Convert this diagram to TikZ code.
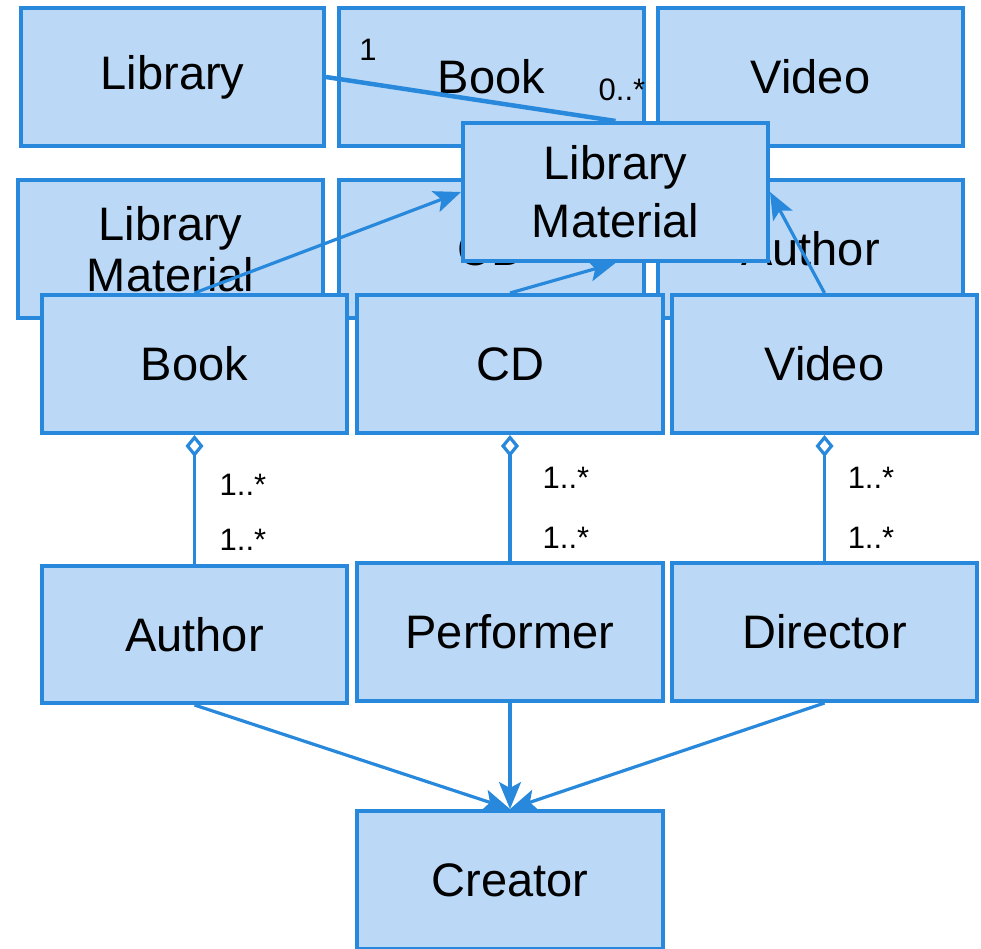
\documentclass[tikz,border=0pt]{standalone}
\usepackage{fontspec}
\setmainfont{Liberation Sans}
\usetikzlibrary{arrows.meta}
\definecolor{boxfill}{RGB}{187,217,246}
\definecolor{boxline}{RGB}{40,137,220}
\tikzset{
  umlbox/.style={draw=boxline, fill=boxfill, line width=4pt, minimum width=305pt, minimum height=138pt, inner sep=0pt, align=center, font=\fontsize{47}{56}\selectfont},
  conn/.style={draw=boxline, line width=3.2pt},
  gen/.style={conn, -{Stealth[length=27pt,width=22pt,inset=6pt]}},
  agg/.style={conn, {Diamond[open,length=22pt,width=18pt]}-},
  mult/.style={font=\fontsize{31}{34}\selectfont, inner sep=0pt}
}
\begin{document}
\begin{tikzpicture}[x=1pt,y=-1pt]
\useasboundingbox (0,0) rectangle (981,948);
% row 1
\node[umlbox, minimum width=303pt] (lib1) at (172.5,77) {Library};
\node[umlbox] (book1) at (491.5,77) {Book};
\node[umlbox] (video1) at (810.5,77) {Video};
% row 2
\node[umlbox, font=\fontsize{47}{51}\selectfont] (lm2) at (170.5,249) {Library\\Material};
\node[umlbox] (cd2) at (491.5,249) {CD};
\node[umlbox] (author2) at (810.5,249) {Author};
% library material (top)
\node[umlbox, font=\fontsize{47}{58}\selectfont] (lm) at (615.5,192) {Library\\Material};
% row 3
\node[umlbox] (book3) at (194.5,364) {Book};
\node[umlbox, minimum width=306pt] (cd3) at (510,364) {CD};
\node[umlbox] (video3) at (824.5,364) {Video};
% row 4
\node[umlbox, minimum height=137pt] (author) at (194.5,634.5) {Author};
\node[umlbox, minimum width=306pt] (performer) at (510,632) {Performer};
\node[umlbox] (director) at (824.5,632) {Director};
% creator
\node[umlbox, minimum width=306pt] (creator) at (510,880) {Creator};
% connectors
\draw[conn, line width=4.5pt] (lib1.east) -- (lm.north);
\draw[gen] (book3.north) -- (lm.west);
\draw[gen] (cd3.north) -- (lm.south);
\draw[gen] (video3.north) -- (lm.east);
\draw[agg] (book3.south) -- (author.north);
\draw[agg] (cd3.south) -- (performer.north);
\draw[agg] (video3.south) -- (director.north);
\draw[gen] (author.south) -- (creator.north);
\draw[gen] (performer.south) -- (creator.north);
\draw[gen] (director.south) -- (creator.north);
% multiplicities
\node[mult] (m1) at (368,50) {1};
\node[mult] (m2) at (622,90) {0..*};
\node[mult] (m3) at (243,485) {1..*};
\node[mult] (m4) at (243,540) {1..*};
\node[mult] (m5) at (566,478) {1..*};
\node[mult] (m6) at (566,538) {1..*};
\node[mult] (m7) at (871,478) {1..*};
\node[mult] (m8) at (871,538) {1..*};
\end{tikzpicture}
\end{document}
